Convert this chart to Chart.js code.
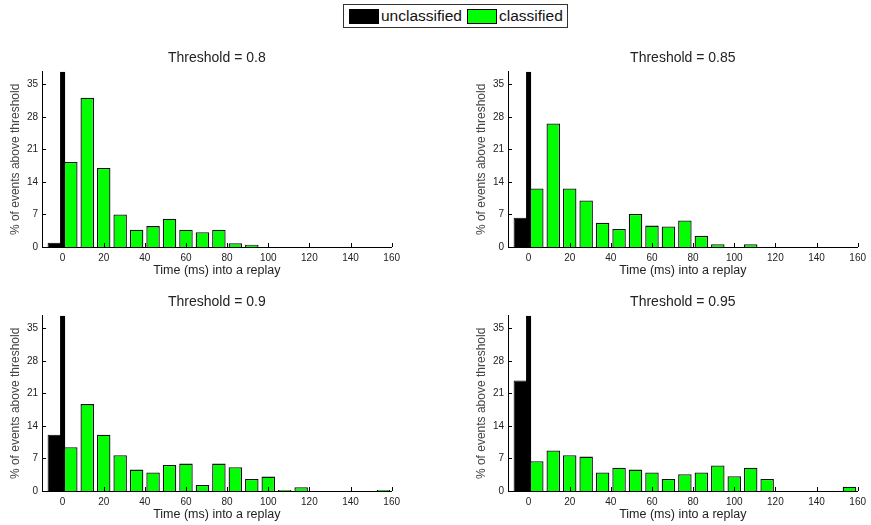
<!DOCTYPE html>
<html>
<head>
<meta charset="utf-8">
<title>Replay timing histograms</title>
<script src="https://cdn.jsdelivr.net/npm/chart.js@4.4.1/dist/chart.umd.min.js"></script>
<style>
  html, body { margin: 0; padding: 0; background: #fff; width: 871px; height: 525px; overflow: hidden; }
  .panel { position: absolute; width: 405px; height: 240px; }
  #legend {
    position: absolute; left: 343px; top: 4px; width: 225px; height: 24px;
    border: 1px solid #333; box-sizing: border-box; background: #fff;
    display: flex; align-items: center;
    font: 15.5px "Liberation Sans", Arial, sans-serif; color: #111;
  }
  #legend .sw { display: inline-block; width: 30px; height: 15px; border: 1px solid #000; box-sizing: border-box; margin: 0 2px 0 5px; }
</style>
</head>
<body>
<div id="legend"></div>
<div class="panel" style="left:0px;top:40px"><canvas id="p1"></canvas></div>
<div class="panel" style="left:466px;top:40px"><canvas id="p2"></canvas></div>
<div class="panel" style="left:0px;top:284px"><canvas id="p3"></canvas></div>
<div class="panel" style="left:466px;top:284px"><canvas id="p4"></canvas></div>
<script>
// series names / colours
const seriesNames = ['unclassified', 'classified'];
const seriesColors = ['#000000', '#00ff00'];

// panel titles
const thresholds = ['Threshold = 0.8', 'Threshold = 0.85', 'Threshold = 0.9', 'Threshold = 0.95'];

// 8 ms bins (centres, ms)
const unclassifiedBin = -4;
const binCenters = [4, 12, 20, 28, 36, 44, 52, 60, 68, 76, 84, 92, 100, 108, 116, 124, 132, 140, 148, 156];

// % of events above threshold
const unclassified = [0.9, 6.3, 12.1, 23.8];
const classified08  = [18.3, 32.1, 17.0, 7.0, 3.7, 4.5, 6.1, 3.7, 3.2, 3.7, 0.8, 0.5, 0, 0, 0, 0, 0, 0, 0, 0];
const classified085 = [12.6, 26.6, 12.6, 10.0, 5.2, 3.9, 7.1, 4.6, 4.4, 5.7, 2.4, 0.6, 0, 0.6, 0, 0, 0, 0, 0, 0];
const classified09  = [9.4, 18.7, 12.1, 7.7, 4.6, 4.0, 5.6, 5.9, 1.3, 5.9, 5.1, 2.6, 3.1, 0.2, 0.8, 0, 0, 0, 0, 0.2];
const classified095 = [6.4, 8.7, 7.7, 7.4, 4.0, 5.0, 4.6, 4.0, 2.6, 3.6, 4.0, 5.5, 3.2, 5.0, 2.6, 0, 0, 0, 0, 0.9];
const classifiedSets = [classified08, classified085, classified09, classified095];

// axes
const xMin = -10, xMax = 160;
const yMin = 0, yMax = 37.7;
const xTicks = [0, 20, 40, 60, 80, 100, 120, 140, 160];
const yTicks = [0, 7, 14, 21, 28, 35];
const onsetTime = 0;

const FONT = '"Liberation Sans", Arial, sans-serif';

// shared legend across the four panels
document.getElementById('legend').innerHTML = seriesNames.map((n, i) =>
  '<span class="sw" style="background:' + seriesColors[i] + '"></span><span>' + n + '</span>'
).join('');

// matlab-style ticks pointing into the plot
const inwardTicks = {
  id: 'inwardTicks',
  afterDatasetsDraw(chart) {
    const {ctx, chartArea, scales: {x, y}} = chart;
    ctx.save();
    ctx.strokeStyle = '#000';
    ctx.lineWidth = 1;
    ctx.beginPath();
    x.ticks.forEach(t => {
      const px = Math.round(x.getPixelForValue(t.value)) + 0.5;
      ctx.moveTo(px, chartArea.bottom);
      ctx.lineTo(px, chartArea.bottom - 4);
    });
    y.ticks.forEach(t => {
      const py = Math.round(y.getPixelForValue(t.value)) + 0.5;
      ctx.moveTo(chartArea.left, py);
      ctx.lineTo(chartArea.left + 4, py);
    });
    ctx.stroke();
    ctx.restore();
  }
};

function makePanel(id, title, blackVal, greenVals) {
  return new Chart(document.getElementById(id), {
    type: 'bar',
    data: {
      datasets: [
        {
          label: seriesNames[0],
          data: [{x: unclassifiedBin, y: blackVal}],
          backgroundColor: seriesColors[0],
          borderColor: '#000',
          borderWidth: 1,
          grouped: false,
          barPercentage: 0.82,
          categoryPercentage: 1
        },
        {
          label: seriesNames[1],
          data: binCenters.map((x, i) => ({x: x, y: greenVals[i]})),
          backgroundColor: seriesColors[1],
          borderColor: '#111',
          borderWidth: 1.3,
          grouped: false,
          barPercentage: 0.82,
          categoryPercentage: 1
        },
        {
          // replay onset marker
          type: 'line',
          label: 'onset',
          data: [{x: onsetTime, y: yMin}, {x: onsetTime, y: yMax}],
          borderColor: '#000',
          borderWidth: 5,
          pointRadius: 0,
          fill: false
        }
      ]
    },
    options: {
      responsive: true,
      maintainAspectRatio: false,
      animation: false,
      layout: { padding: { right: 10 } },
      plugins: {
        legend: { display: false },
        tooltip: { enabled: false },
        title: {
          display: true,
          text: title,
          fullSize: false,
          color: '#222',
          font: { family: FONT, size: 14, weight: 'normal' },
          padding: { top: 10, bottom: 5 }
        }
      },
      scales: {
        x: {
          type: 'linear',
          min: xMin,
          max: xMax,
          offset: false,
          grid: { display: false, drawTicks: false, offset: false },
          border: { display: true, color: '#000', width: 1 },
          afterBuildTicks: axis => { axis.ticks = xTicks.map(v => ({value: v})); },
          afterFit: axis => { axis.height = 33; },
          ticks: { color: '#222', font: { family: FONT, size: 10 }, padding: 5, maxRotation: 0 },
          title: {
            display: true,
            text: 'Time (ms) into a replay',
            color: '#222',
            font: { family: FONT, size: 12.5 },
            padding: { top: 0, bottom: 2 }
          }
        },
        y: {
          min: yMin,
          max: yMax,
          grid: { display: false, drawTicks: false },
          border: { display: true, color: '#000', width: 1 },
          afterBuildTicks: axis => { axis.ticks = yTicks.map(v => ({value: v})); },
          afterFit: axis => { axis.width = 42; },
          ticks: { color: '#222', font: { family: FONT, size: 10 }, padding: 4 },
          title: {
            display: true,
            text: '% of events above threshold',
            color: '#444',
            font: { family: FONT, size: 12 },
            padding: { top: 8, bottom: 0 }
          }
        }
      }
    },
    plugins: [inwardTicks]
  });
}

['p1', 'p2', 'p3', 'p4'].forEach((id, i) => {
  makePanel(id, thresholds[i], unclassified[i], classifiedSets[i]);
});
</script>
</body>
</html>
